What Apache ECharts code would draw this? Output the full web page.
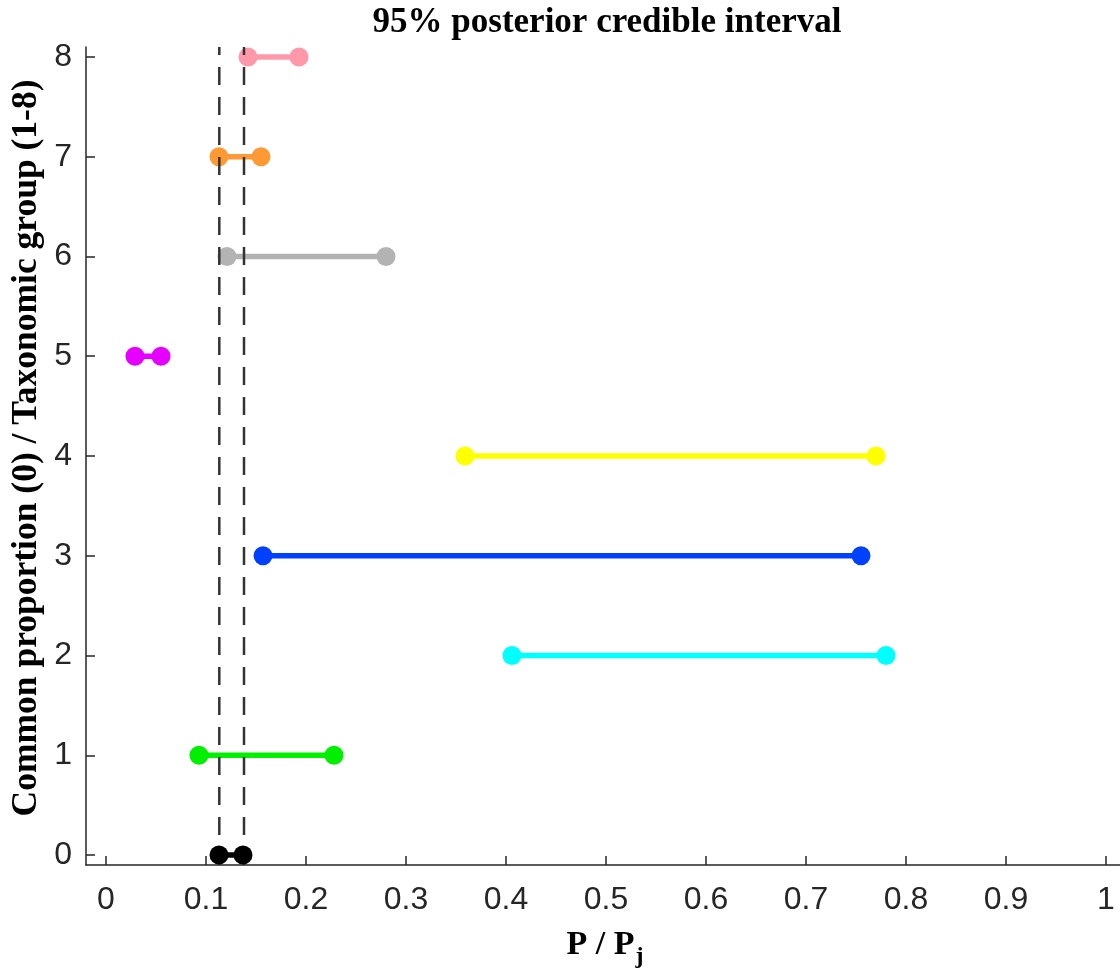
<!DOCTYPE html>
<html>
<head>
<meta charset="utf-8">
<script src="https://cdn.jsdelivr.net/npm/echarts@6/dist/echarts.min.js"></script>
<style>
html,body{margin:0;padding:0;background:#fff;}
#chart{width:1120px;height:978px;}
</style>
</head>
<body>
<div id="chart"></div>
<script>
// Data
var groups = [0, 1, 2, 3, 4, 5, 6, 7, 8];
var lowerBounds = [0.113, 0.093, 0.406, 0.157, 0.359, 0.029, 0.121, 0.113, 0.142];
var upperBounds = [0.137, 0.228, 0.780, 0.755, 0.770, 0.055, 0.280, 0.155, 0.193];
var groupColors = ['#000000', '#00f000', '#00ffff', '#0040ff', '#ffff00', '#e600ff', '#b3b3b3', '#ff9933', '#ff99aa'];
var refLines = [0.1133, 0.138];
var xTicks = [0, 0.1, 0.2, 0.3, 0.4, 0.5, 0.6, 0.7, 0.8, 0.9, 1];
var yTicks = [0, 1, 2, 3, 4, 5, 6, 7, 8];
var titleText = '95% posterior credible interval';
var yLabelText = 'Common proportion (0) / Taxonomic group (1-8)';

var chart = echarts.init(document.getElementById('chart'), null, {renderer: 'canvas'});

var axisColor = '#262626';
var series = [];
for (var i = groups.length - 1; i >= 1; i--) {
  series.push({
    type: 'line',
    data: [[lowerBounds[i], groups[i]], [upperBounds[i], groups[i]]],
    symbol: 'circle',
    symbolSize: 19,
    lineStyle: {color: groupColors[i], width: 5.5},
    itemStyle: {color: groupColors[i]},
    animation: false,
    silent: true,
    z: 2
  });
}
refLines.forEach(function (v) {
  series.push({
    type: 'line',
    data: [[v, -0.1], [v, 8.1]],
    symbol: 'none',
    lineStyle: {color: '#333333', width: 2.5, type: [18, 12]},
    animation: false,
    silent: true,
    z: 3
  });
});
series.push({
  type: 'line',
  data: [[lowerBounds[0], groups[0]], [upperBounds[0], groups[0]]],
  symbol: 'circle',
  symbolSize: 19,
  lineStyle: {color: groupColors[0], width: 5.5},
  itemStyle: {color: groupColors[0]},
  animation: false,
  silent: true,
  z: 4
});

var option = {
  backgroundColor: '#ffffff',
  animation: false,
  grid: {left: 86, right: 0, top: 47, bottom: 113, containLabel: false},
  xAxis: {
    type: 'value',
    min: -0.02,
    max: 1.014,
    splitLine: {show: false},
    axisLine: {show: true, onZero: false, lineStyle: {color: axisColor, width: 1.5}},
    axisTick: {show: true, inside: true, length: 9, customValues: xTicks, lineStyle: {color: axisColor, width: 1.5}},
    axisLabel: {
      customValues: xTicks,
      color: axisColor,
      fontFamily: 'Liberation Sans, Arial, sans-serif',
      fontSize: 32,
      margin: 19,
      formatter: function (v) { return String(Math.round(v * 10) / 10); }
    }
  },
  yAxis: {
    type: 'value',
    min: -0.1,
    max: 8.1,
    splitLine: {show: false},
    axisLine: {show: true, onZero: false, lineStyle: {color: axisColor, width: 1.5}},
    axisTick: {show: true, inside: true, length: 9, customValues: yTicks, lineStyle: {color: axisColor, width: 1.5}},
    axisLabel: {
      customValues: yTicks,
      color: axisColor,
      fontFamily: 'Liberation Sans, Arial, sans-serif',
      fontSize: 32,
      margin: 14
    }
  },
  graphic: [
    {
      type: 'text',
      x: 607, y: 23,
      style: {
        text: titleText,
        font: 'bold 35px "Liberation Serif", "Times New Roman", serif',
        fill: '#000000',
        textAlign: 'center',
        textVerticalAlign: 'middle'
      }
    },
    {
      type: 'text',
      x: 27, y: 448,
      rotation: Math.PI / 2,
      style: {
        text: yLabelText,
        font: 'bold 35.5px "Liberation Serif", "Times New Roman", serif',
        fill: '#000000',
        textAlign: 'center',
        textVerticalAlign: 'middle'
      }
    },
    {
      type: 'text',
      x: 605, y: 945,
      style: {
        text: '{m|P / P}{s|j}',
        textAlign: 'center',
        textVerticalAlign: 'middle',
        rich: {
          m: {font: 'bold 34px "Liberation Serif", "Times New Roman", serif', fill: '#000000', lineHeight: 36},
          s: {font: 'bold 24px "Liberation Serif", "Times New Roman", serif', fill: '#000000', lineHeight: 36, padding: [24, 0, 0, 1]}
        }
      }
    }
  ],
  series: series
};
chart.setOption(option);
</script>
</body>
</html>
